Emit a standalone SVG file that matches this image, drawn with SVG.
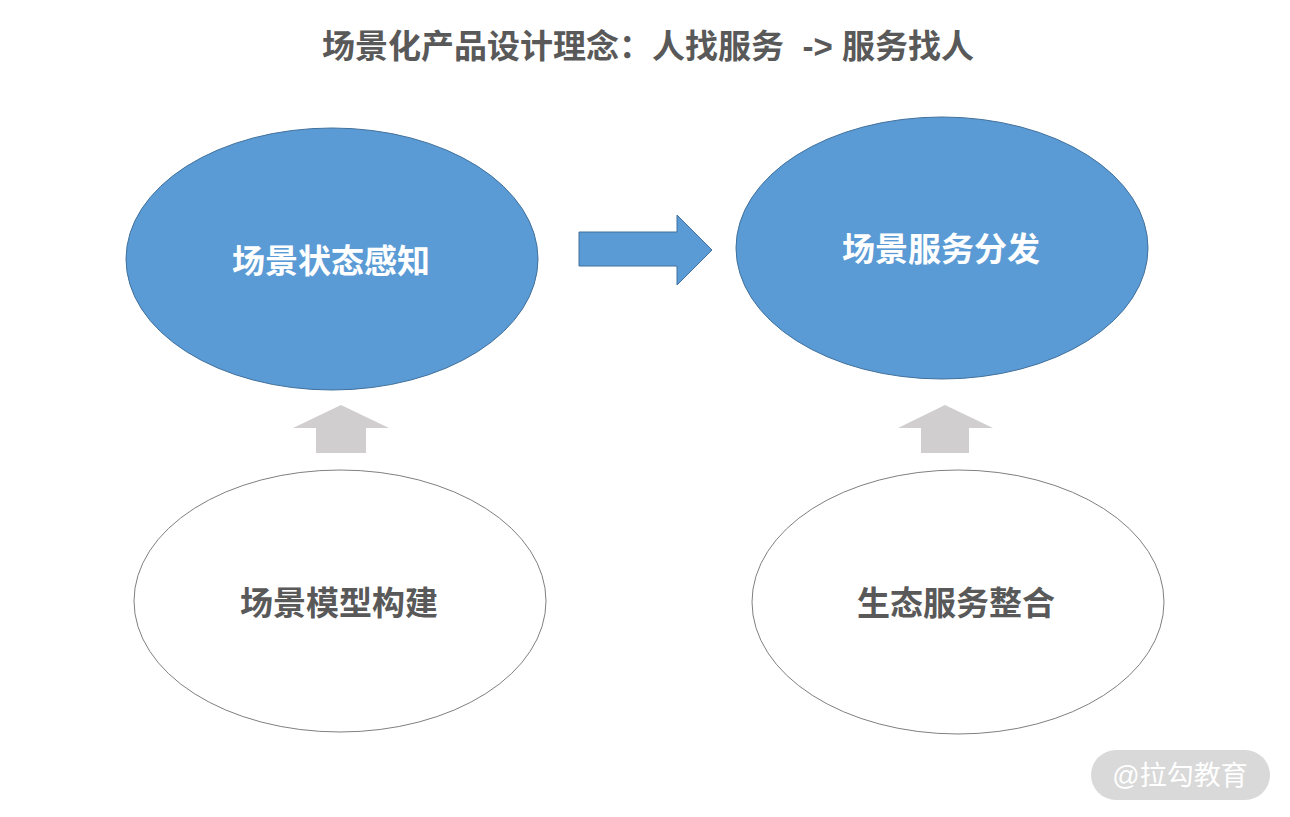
<svg xmlns="http://www.w3.org/2000/svg" width="1290" height="817" viewBox="0 0 1290 817">
<style>
.t{font-family:"Liberation Sans","Noto Sans CJK SC",sans-serif;font-weight:bold;text-anchor:middle;dominant-baseline:central}
.blue{fill:#5B9BD5;stroke:#41719C;stroke-width:1}
.white{fill:#fff;stroke:#7f7f7f;stroke-width:1}
.lbl{font-size:33px}
.up{fill:#D0CECE}
</style>
<rect width="1290" height="817" fill="#fff"/>
<text class="t" x="648" y="46" font-size="33" fill="#595959" xml:space="preserve">场景化产品设计理念：人找服务  -&gt; 服务找人</text>
<g id="n1"><ellipse class="blue" cx="332" cy="259" rx="206" ry="131"/><text class="t lbl" x="331" y="261" fill="#fff">场景状态感知</text></g>
<g id="n2"><ellipse class="blue" cx="942" cy="248" rx="206" ry="131"/><text class="t lbl" x="941" y="249" fill="#fff">场景服务分发</text></g>
<g id="n3"><ellipse class="white" cx="340" cy="601" rx="206" ry="131"/><text class="t lbl" x="339" y="603" fill="#595959">场景模型构建</text></g>
<g id="n4"><ellipse class="white" cx="958" cy="602" rx="206" ry="132"/><text class="t lbl" x="956" y="603" fill="#595959">生态服务整合</text></g>
<g id="connectors">
<polygon class="blue" points="579,232 677,232 677,215 712,250 677,285 677,266 579,266"/>
<polygon class="up" points="341,405 389,428 366,428 366,453 316,453 316,428 293,428"/>
<polygon class="up" points="945,405 993,428 969,428 969,453 921,453 921,428 898,428"/>
</g>
<g id="watermark"><rect x="1091" y="750" width="179" height="50" rx="25" fill="#D9D9D9"/><text x="1180" y="776" font-family="Liberation Sans,'Noto Sans CJK SC',sans-serif" font-size="27" fill="#fff" text-anchor="middle" dominant-baseline="central">@拉勾教育</text></g>
</svg>
